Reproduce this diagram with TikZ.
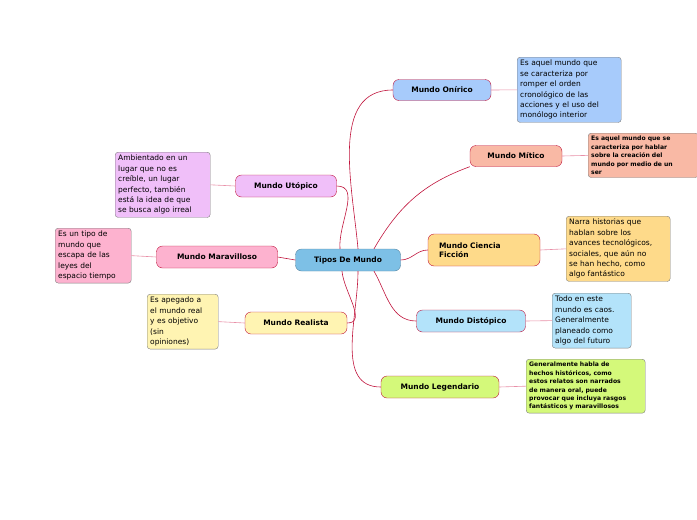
\documentclass[tikz,border=0pt]{standalone}
\usepackage{fontspec}
\setmainfont{DejaVu Sans}
\definecolor{cTipos}{HTML}{7DC0E6}
\definecolor{cOnirico}{HTML}{A7CBFB}
\definecolor{cMitico}{HTML}{F9B9A5}
\definecolor{cCiencia}{HTML}{FEDA8A}
\definecolor{cDistopico}{HTML}{B3E3FA}
\definecolor{cLegend}{HTML}{D4F97A}
\definecolor{cUtopico}{HTML}{F0BFF9}
\definecolor{cMaravilla}{HTML}{FDB2CF}
\definecolor{cRealista}{HTML}{FFF4B2}
\definecolor{cRed}{HTML}{C0143C}
\definecolor{cPink}{HTML}{E890A8}
\tikzset{
	topic/.style={draw=cRed,rounded corners=6pt,font=\fontsize{7.5}{9}\selectfont\bfseries,inner sep=0pt,align=left},
	note/.style={draw=gray,rounded corners=3pt,font=\fontsize{7.5}{10.4}\selectfont,anchor=north west,inner sep=3pt,align=left},
	bnote/.style={note,font=\fontsize{6.1}{8.4}\selectfont\bfseries},
	branch/.style={draw=cRed,semithick},
	twig/.style={draw=cPink,semithick}
}
\begin{document}
\begin{tikzpicture}[x=1pt,y=-1pt]
	\useasboundingbox (0,0) rectangle (697,520);
	%CENTRE
	\node[topic,fill=cTipos,draw=cTipos!70!black,minimum width=105pt,minimum height=22pt,align=center] (tipos) at (348,260) {Tipos De Mundo};
	%TOPICS
	\node[topic,fill=cOnirico,minimum width=98pt,minimum height=21pt,align=center] (onirico) at (442,90) {Mundo Onírico};
	\node[topic,fill=cMitico,minimum width=92pt,minimum height=21pt,align=center] (mitico) at (516,156) {Mundo Mítico};
	\node[topic,fill=cCiencia,minimum width=112pt,minimum height=32pt,text width=90pt] (ciencia) at (484,250) {Mundo Ciencia\\Ficción};
	\node[topic,fill=cDistopico,minimum width=109pt,minimum height=22pt,align=center] (distopico) at (471,321) {Mundo Distópico};
	\node[topic,fill=cLegend,minimum width=118pt,minimum height=22pt,align=center] (legendario) at (440,387) {Mundo Legendario};
	\node[topic,fill=cUtopico,minimum width=101pt,minimum height=22pt,align=center] (utopico) at (286,186) {Mundo Utópico};
	\node[topic,fill=cMaravilla,minimum width=121pt,minimum height=22pt,align=center] (maravilla) at (217,257) {Mundo Maravilloso};
	\node[topic,fill=cRealista,minimum width=102pt,minimum height=22pt,align=center] (realista) at (296,323) {Mundo Realista};
	%NOTES
	\node[note,fill=cOnirico,text width=98pt] (nOnirico) at (517,57) {Es aquel mundo que\\se caracteriza por\\romper el orden\\cronológico de las\\acciones y el uso del\\monólogo interior};
	\node[bnote,fill=cMitico,text width=104pt] (nMitico) at (588,133) {Es aquel mundo que se\\caracteriza por hablar\\sobre la creación del\\mundo por medio de un\\ser};
	\node[note,fill=cCiencia,text width=98pt] (nCiencia) at (566,216) {Narra historias que\\hablan sobre los\\avances tecnológicos,\\sociales, que aún no\\se han hecho, como\\algo fantástico};
	\node[note,fill=cDistopico,text width=73pt] (nDistopico) at (552,293) {Todo en este\\mundo es caos.\\Generalmente\\planeado como\\algo del futuro};
	\node[bnote,fill=cLegend,text width=113pt] (nLegend) at (526,359) {Generalmente habla de\\hechos históricos, como\\estos relatos son narrados\\de manera oral, puede\\provocar que incluya rasgos\\fantásticos y maravillosos};
	\node[note,fill=cUtopico,text width=89pt] (nUtopico) at (115,152) {Ambientado en un\\lugar que no es\\creíble, un lugar\\perfecto, también\\está la idea de que\\se busca algo irreal};
	\node[note,fill=cMaravilla,text width=70pt] (nMaravilla) at (55,228) {Es un tipo de\\mundo que\\escapa de las\\leyes del\\espacio tiempo};
	\node[note,fill=cRealista,text width=65pt] (nRealista) at (147,294) {Es apegado a\\el mundo real\\y es objetivo\\(sin\\opiniones)};
	%BRANCHES
	\draw[branch] ([xshift=10pt]tipos.north) to[out=95,in=180] (onirico.west);
	\draw[branch] ([xshift=26pt]tipos.north) to[out=60,in=200] (mitico.south west);
	\draw[branch] (tipos.east) to[out=0,in=180] (ciencia.west);
	\draw[branch] ([xshift=26pt]tipos.south) to[out=-60,in=180] (distopico.west);
	\draw[branch] ([xshift=10pt]tipos.south) to[out=-90,in=180] (legendario.west);
	\draw[branch] ([xshift=-8pt]tipos.north) to[out=95,in=0] (utopico.east);
	\draw[branch] (tipos.west) -- (maravilla.east);
	\draw[branch] ([xshift=-6pt]tipos.south) to[out=-85,in=0] (realista.east);
	%TWIGS
	\draw[twig] (onirico.east) -- (nOnirico.west);
	\draw[twig] (mitico.east) -- (nMitico.west);
	\draw[twig] (ciencia.east) -- (nCiencia.west);
	\draw[twig] (distopico.east) -- (nDistopico.west);
	\draw[twig] (legendario.east) -- (nLegend.west);
	\draw[twig] (utopico.west) -- (nUtopico.east);
	\draw[twig] (maravilla.west) -- (nMaravilla.east);
	\draw[twig] (realista.west) -- (nRealista.east);
\end{tikzpicture}
\end{document}
